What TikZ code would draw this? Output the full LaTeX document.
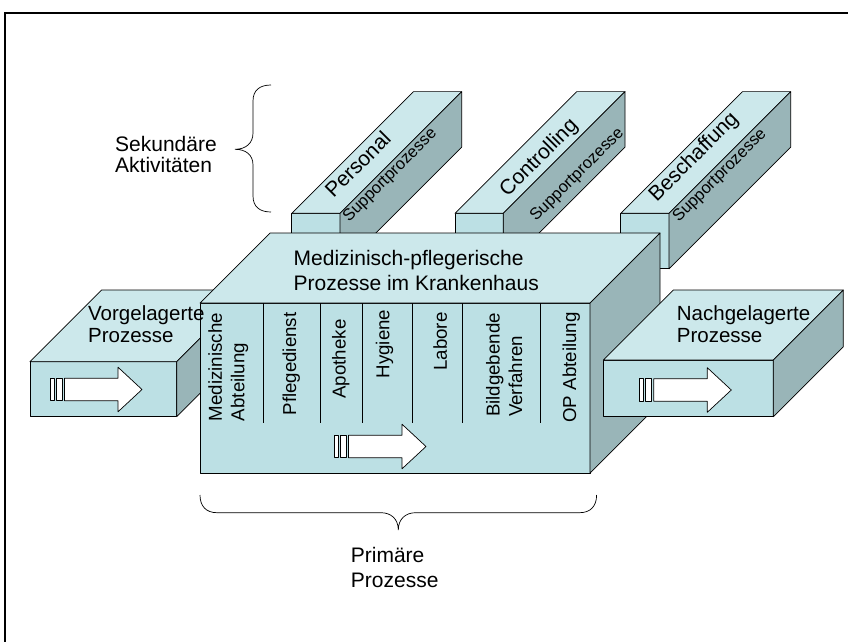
\documentclass[tikz,border=0pt]{standalone}
\usepackage{fontspec}
\setmainfont{Liberation Sans}

\definecolor{topface}{RGB}{204,232,235}
\definecolor{frontface}{RGB}{188,224,228}
\definecolor{sideface}{RGB}{153,181,184}

\tikzset{
  edge/.style={draw=black, line width=0.7pt, line join=round},
  topf/.style={edge, fill=topface},
  frontf/.style={edge, fill=frontface},
  sidef/.style={edge, fill=sideface},
  lbl/.style={inner sep=0pt, align=left, font=\fontsize{21}{25.5}\selectfont},
  boxlbl/.style={inner sep=0pt, align=left, font=\fontsize{20.5}{22}\selectfont},
  collbl/.style={inner sep=0pt, align=left, rotate=90, font=\fontsize{18.7}{22.5}\selectfont},
  pillarlbl/.style={inner sep=0pt, rotate=45, font=\fontsize{21}{24}\selectfont},
  supportlbl/.style={inner sep=0pt, rotate=45, font=\fontsize{16.5}{18}\selectfont},
  bracket/.style={draw=black, line width=0.7pt},
  flowarrow/.pic={
    \filldraw[edge, fill=white] (0,-11.3) rectangle (4,11.3);
    \filldraw[edge, fill=white] (6,-11.3) rectangle (12.5,11.3);
    \filldraw[edge, fill=white] (14.5,-11.3) -- (68,-11.3) -- (68,-22.3)
      -- (92,0) -- (68,22.3) -- (68,11.3) -- (14.5,11.3) -- cycle;
  }
}

% cuboid seen from the front-right: front face at (#1,#2) of size #3 x #4,
% receding by #5 to the upper right
\newcommand{\isoblock}[5]{%
  \filldraw[frontf] (#1,#2) rectangle ++(#3,#4);
  \filldraw[topf] (#1,#2) -- ++(#5,-#5) -- ++(#3,0) -- ++(-#5,#5) -- cycle;
  \filldraw[sidef] (#1+#3,#2) -- ++(#5,-#5) -- ++(0,#4) -- ++(-#5,#5) -- cycle;
}

\begin{document}
\begin{tikzpicture}[x=1pt, y=-1pt]
  \useasboundingbox (0,0) rectangle (848,642);
  \clip (0,0) rectangle (848,642);
  \fill[white] (0,0) rectangle (848,642);

  % frame
  \draw[line width=2pt] (5,12.7) rectangle (880,680);

  % support pillars (behind the main block)
  \isoblock{291.7}{213.3}{48.3}{55.5}{121.7}
  \isoblock{455}{213.3}{48.3}{55.5}{121.7}
  \isoblock{620.7}{213.3}{48.3}{55.5}{121.7}

  % upstream block
  \isoblock{30}{361.7}{146.7}{55}{71.7}

  % main block
  \isoblock{200}{303}{390}{170}{70}
  \foreach \x in {263.3,320,362.7,412.7,462.7,540}
    \draw[edge] (\x,303) -- (\x,423);

  % downstream block
  \isoblock{603.3}{360}{170}{56.7}{70}

  % flow arrows
  \pic at (50,389.5) {flowarrow};
  \pic at (334,446.5) {flowarrow};
  \pic at (639.3,390) {flowarrow};

  % pillar labels
  \node[pillarlbl] (personal) at (357.5,164.2) {Personal};
  \node[pillarlbl] (controlling) at (539.2,158.3) {Controlling};
  \node[pillarlbl] (beschaffung) at (694.2,157.5) {Beschaffung};
  \node[supportlbl] (sup1) at (390.3,175.7) {Supportprozesse};
  \node[supportlbl] (sup2) at (577.3,175) {Supportprozesse};
  \node[supportlbl] (sup3) at (720,175.8) {Supportprozesse};

  % block labels
  \node[lbl, anchor=west] (main) at (293.5,270.7)
    {Medizinisch-pflegerische\\Prozesse im Krankenhaus};
  \node[boxlbl, anchor=west] (vor) at (88,324.3) {Vorgelagerte\\Prozesse};
  \node[boxlbl, anchor=west] (nach) at (676.7,324.3) {Nachgelagerte\\Prozesse};

  % department columns
  \node[collbl] (med) at (228.3,367) {Medizinische\\Abteilung};
  \node[collbl] (pflege) at (291.3,364) {Pflegedienst};
  \node[collbl] (apo) at (340.8,359) {Apotheke};
  \node[collbl] (hyg) at (384.5,344) {Hygiene};
  \node[collbl] (lab) at (440.3,341.5) {Labore};
  \node[collbl] (bild) at (504.2,365) {Bildgebende\\Verfahren};
  \node[collbl] (op) at (571.3,367.5) {OP Abteilung};

  % braces and their captions
  \draw[bracket] (271,85) .. controls (260,85) and (253,90) .. (253,101)
    -- (253,133) .. controls (253,143) and (246,149.3) .. (235,149.3)
    .. controls (246,149.3) and (253,155) .. (253,165)
    -- (253,196) .. controls (253,207) and (260,212) .. (271,212);
  \node[lbl, font=\fontsize{21}{21}\selectfont, anchor=west] (sek) at (115,154.6)
    {Sekundäre\\Aktivitäten};

  \draw[bracket] (200,495) .. controls (200,506) and (206,512.7) .. (217,512.7)
    -- (381,512.7) .. controls (391,512.7) and (398.3,519) .. (398.3,530)
    .. controls (398.3,519) and (405.6,512.7) .. (415.6,512.7)
    -- (579.6,512.7) .. controls (590.6,512.7) and (596.6,506) .. (596.6,495);
  \node[lbl, font=\fontsize{21}{24.7}\selectfont, anchor=west] (prim) at (350.7,567.3)
    {Primäre\\Prozesse};
\end{tikzpicture}
\end{document}
